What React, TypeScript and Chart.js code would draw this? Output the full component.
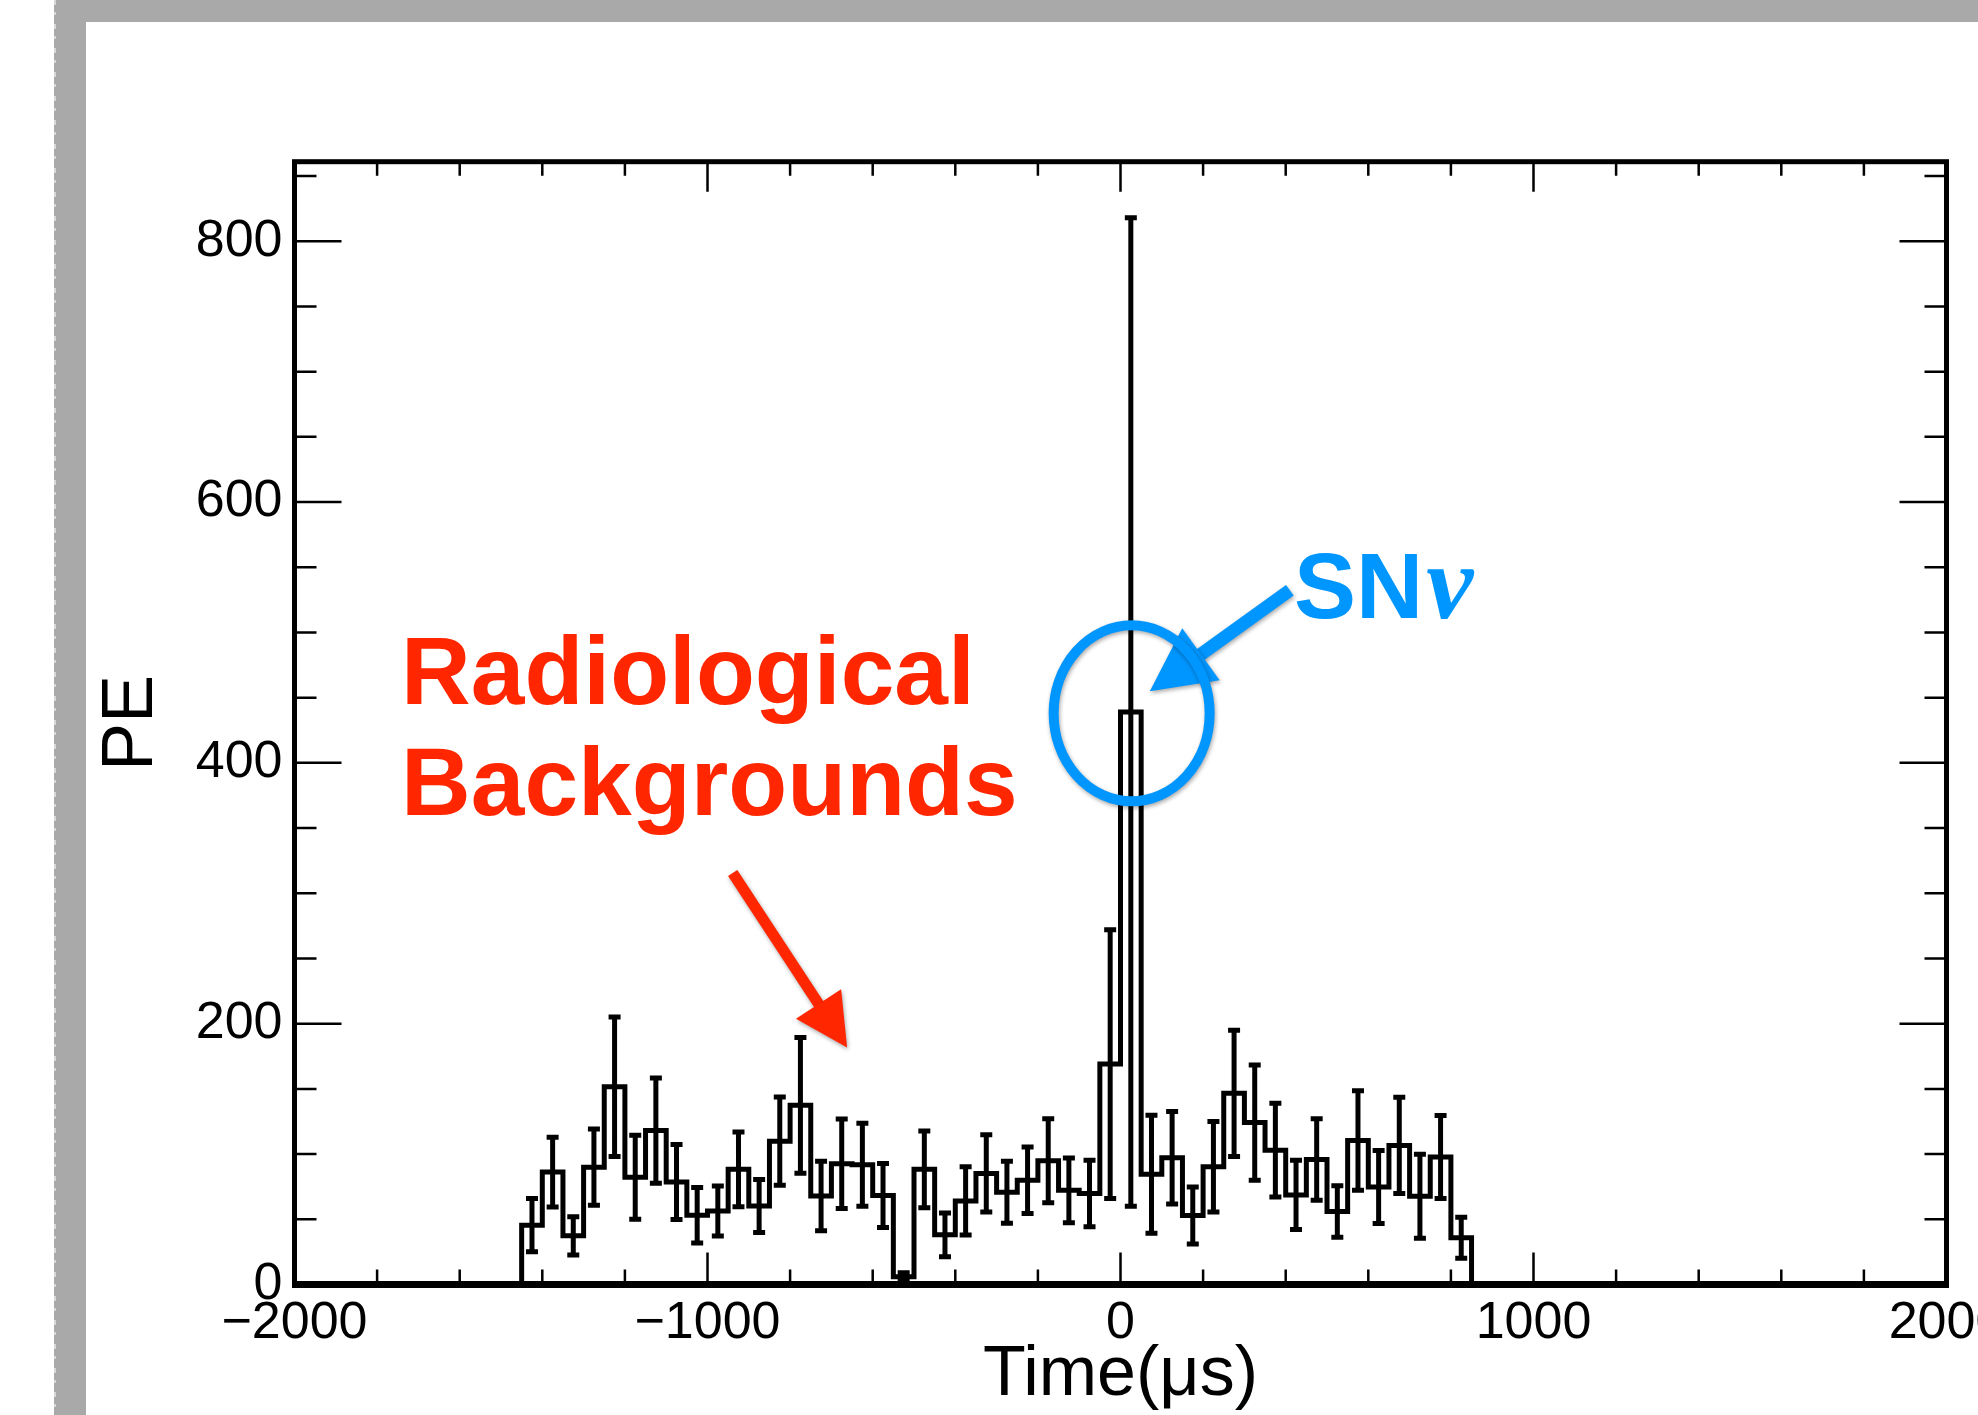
import React, { useEffect, useRef } from "react";
import { Chart, registerables } from "chart.js";

Chart.register(...registerables);

// ---------- data ----------
const binLowEdges = [
  -1450, -1400, -1350, -1300, -1250, -1200, -1150, -1100, -1050, -1000,
  -950, -900, -850, -800, -750, -700, -650, -600, -550, -500,
  -450, -400, -350, -300, -250, -200, -150, -100, -50, 0,
  50, 100, 150, 200, 250, 300, 350, 400, 450, 500,
  550, 600, 650, 700, 750, 800,
];
const binHighEdge = 850;

const peValues = [
  45.5, 86.2, 37.3, 90, 151.7, 82.2, 118, 78.6, 53.1, 56.4,
  88.3, 60.2, 109.9, 137.4, 67.9, 92.6, 91.9, 68.2, 6, 88.3,
  38.1, 64.1, 85.2, 70.7, 79.9, 94.9, 72.2, 69.7, 169, 439,
  84.5, 97.2, 52.9, 90.3, 146.6, 124.2, 103, 68.7, 95.9, 56,
  110.4, 74.8, 106.6, 67.6, 97.7, 35.8,
];
const peErrors = [
  20.4, 26.8, 14.7, 29.3, 53.5, 32.2, 40.3, 28.8, 21.2, 19.2,
  28.7, 20.4, 33.8, 52, 26.6, 34.3, 31.8, 24.5, 3, 29.4,
  16.8, 26.1, 29.6, 23.8, 25.5, 32.2, 24.8, 25.5, 103, 379,
  45.2, 35.5, 21.9, 34.7, 48.4, 44.2, 35.9, 26.5, 31.2, 19.7,
  38.2, 28, 36.9, 32.2, 31.8, 15.7,
];

const xRange = [-2000, 2000];
const yRange = [0, 861];
const xMajorTicks = [-2000, -1000, 0, 1000, 2000];
const xTickLabels = ["\u22122000", "\u22121000", "0", "1000", "2000"];
const xMinorTicks = [
  -1800, -1600, -1400, -1200, -800, -600, -400, -200,
  200, 400, 600, 800, 1200, 1400, 1600, 1800,
];
const yMajorTicks = [0, 200, 400, 600, 800];
const yTickLabels = ["0", "200", "400", "600", "800"];
const yMinorTicks = [50, 100, 150, 250, 300, 350, 450, 500, 550, 650, 700, 750, 850];

const xTitle = "Time(\u03bcs)";
const yTitle = "PE";
const bgLabelLines = ["Radiological", "Backgrounds"];
const snLabelMain = "SN";
const snLabelNu = "\u03bd";

// ---------- styles / positions (not data) ----------
const FONT = '"Liberation Sans", Arial, Helvetica, sans-serif';
const RED = "#FF2600";
const BLUE = "#0096FF";
const bgLabelAnchor = { x: -1742, y: [445.5, 360.2] };
const bgArrow = { from: { x: -939, y: 315.5 }, to: { x: -662, y: 181.8 } };
const snLabelAnchor = { x: 420, y: 511 };
const snArrow = { from: { x: 410, y: 532.4 }, to: { x: 71, y: 455 } };
const snEllipse = { x: 27, y: 438, rx: 78, ry: 88 };

function drawArrow(
  ctx: CanvasRenderingContext2D,
  x0: number, y0: number, x1: number, y1: number,
  width: number, headLen: number, headHalf: number, color: string
) {
  const dx = x1 - x0, dy = y1 - y0;
  const L = Math.hypot(dx, dy);
  const ux = dx / L, uy = dy / L;
  const bx = x1 - ux * headLen, by = y1 - uy * headLen;
  ctx.strokeStyle = color;
  ctx.fillStyle = color;
  ctx.lineWidth = width;
  ctx.lineCap = "butt";
  ctx.beginPath();
  ctx.moveTo(x0, y0);
  ctx.lineTo(bx + ux * 4, by + uy * 4);
  ctx.stroke();
  ctx.beginPath();
  ctx.moveTo(x1, y1);
  ctx.lineTo(bx - uy * headHalf, by + ux * headHalf);
  ctx.lineTo(bx + uy * headHalf, by - ux * headHalf);
  ctx.closePath();
  ctx.fill();
}

const pageDecor = {
  id: "pageDecor",
  beforeDraw(chart: any) {
    const { ctx, width, height } = chart;
    ctx.save();
    ctx.fillStyle = "#ffffff";
    ctx.fillRect(0, 0, width, height);
    ctx.fillStyle = "#a9a9a9";
    ctx.fillRect(54, 0, 32, height);
    ctx.fillRect(54, 0, width - 54, 22);
    ctx.strokeStyle = "#d6d6d6";
    ctx.lineWidth = 2;
    ctx.setLineDash([5, 7, 3, 9]);
    ctx.beginPath();
    ctx.moveTo(55, 0);
    ctx.lineTo(55, height);
    ctx.stroke();
    ctx.restore();
  },
};

const errorBars = {
  id: "errorBars",
  afterDatasetsDraw(chart: any) {
    const { ctx, scales } = chart;
    const x = scales.x, y = scales.y;
    ctx.save();
    ctx.strokeStyle = "#000";
    ctx.lineWidth = 5;
    ctx.lineCap = "butt";
    ctx.beginPath();
    binLowEdges.forEach((lo, i) => {
      const hi = i + 1 < binLowEdges.length ? binLowEdges[i + 1] : binHighEdge;
      const cx = x.getPixelForValue((lo + hi) / 2);
      const yt = y.getPixelForValue(peValues[i] + peErrors[i]);
      const yb = y.getPixelForValue(peValues[i] - peErrors[i]);
      ctx.moveTo(cx, yt);
      ctx.lineTo(cx, yb);
      ctx.moveTo(cx - 6, yt);
      ctx.lineTo(cx + 6, yt);
      ctx.moveTo(cx - 6, yb);
      ctx.lineTo(cx + 6, yb);
    });
    ctx.stroke();
    ctx.restore();
  },
};

const frameAndTicks = {
  id: "frameAndTicks",
  afterDraw(chart: any) {
    const { ctx, chartArea: a, scales } = chart;
    const x = scales.x, y = scales.y;
    ctx.save();
    ctx.strokeStyle = "#000";
    ctx.lineWidth = 2.5;
    ctx.lineCap = "butt";
    ctx.beginPath();
    const xt = (list: number[], lb: number, lt: number) => {
      list.forEach((v) => {
        const p = x.getPixelForValue(v);
        ctx.moveTo(p, a.bottom);
        ctx.lineTo(p, a.bottom - lb);
        ctx.moveTo(p, a.top);
        ctx.lineTo(p, a.top + lt);
      });
    };
    const yt = (list: number[], l: number) => {
      list.forEach((v) => {
        const p = y.getPixelForValue(v);
        ctx.moveTo(a.left, p);
        ctx.lineTo(a.left + l, p);
        ctx.moveTo(a.right, p);
        ctx.lineTo(a.right - l, p);
      });
    };
    xt(xMinorTicks, 15, 14);
    xt(xMajorTicks, 32, 30);
    yt(yMinorTicks, 22);
    yt(yMajorTicks, 47);
    ctx.stroke();
    ctx.lineWidth = 5;
    ctx.strokeRect(a.left, a.top, a.right - a.left, a.bottom - a.top);
    ctx.lineWidth = 7;
    ctx.beginPath();
    ctx.moveTo(a.left - 2.5, a.bottom);
    ctx.lineTo(a.right + 2.5, a.bottom);
    ctx.stroke();
    ctx.restore();
  },
};

const annotations = {
  id: "annotations",
  afterDraw(chart: any) {
    const { ctx, scales } = chart;
    const x = scales.x, y = scales.y;
    ctx.save();
    // red label
    ctx.fillStyle = RED;
    ctx.font = `bold 96.5px ${FONT}`;
    ctx.textAlign = "left";
    ctx.textBaseline = "alphabetic";
    bgLabelLines.forEach((line, i) => {
      ctx.fillText(line, x.getPixelForValue(bgLabelAnchor.x), y.getPixelForValue(bgLabelAnchor.y[i]));
    });
    // blue label
    ctx.fillStyle = BLUE;
    ctx.font = `bold 93px ${FONT}`;
    const sx = x.getPixelForValue(snLabelAnchor.x);
    const sy = y.getPixelForValue(snLabelAnchor.y);
    ctx.fillText(snLabelMain, sx, sy);
    const w = ctx.measureText(snLabelMain).width;
    ctx.font = `italic bold 106px "Liberation Serif", "DejaVu Serif", serif`;
    ctx.fillText(snLabelNu, sx + w + 3, sy);

    // shapes with a soft shadow
    ctx.shadowColor = "rgba(0,0,0,0.35)";
    ctx.shadowBlur = 4;
    ctx.shadowOffsetX = 1;
    ctx.shadowOffsetY = 2;
    drawArrow(
      ctx,
      x.getPixelForValue(bgArrow.from.x), y.getPixelForValue(bgArrow.from.y),
      x.getPixelForValue(bgArrow.to.x), y.getPixelForValue(bgArrow.to.y),
      11, 52, 27, RED
    );
    drawArrow(
      ctx,
      x.getPixelForValue(snArrow.from.x), y.getPixelForValue(snArrow.from.y),
      x.getPixelForValue(snArrow.to.x), y.getPixelForValue(snArrow.to.y),
      13, 63, 32, BLUE
    );
    ctx.strokeStyle = BLUE;
    ctx.lineWidth = 10;
    ctx.beginPath();
    ctx.ellipse(
      x.getPixelForValue(snEllipse.x), y.getPixelForValue(snEllipse.y),
      snEllipse.rx, snEllipse.ry, 0, 0, Math.PI * 2
    );
    ctx.stroke();
    ctx.restore();
  },
};

export default function App() {
  const canvasRef = useRef<HTMLCanvasElement | null>(null);

  useEffect(() => {
    document.body.style.margin = "0";
    document.body.style.overflow = "hidden";
    document.body.style.background = "#fff";
    const canvas = canvasRef.current;
    if (!canvas) return;

    const histPoints = [
      { x: xRange[0], y: 0 },
      ...binLowEdges.map((e, i) => ({ x: e, y: peValues[i] })),
      { x: binHighEdge, y: 0 },
      { x: xRange[1], y: 0 },
    ];

    const chart = new Chart(canvas, {
      type: "line",
      data: {
        datasets: [
          {
            data: histPoints,
            stepped: "before",
            borderColor: "#000",
            borderWidth: 5,
            borderJoinStyle: "miter",
            borderCapStyle: "butt",
            pointRadius: 0,
            fill: false,
            tension: 0,
            clip: 10,
          } as any,
        ],
      },
      options: {
        animation: false,
        responsive: false,
        maintainAspectRatio: false,
        devicePixelRatio: 1,
        events: [],
        layout: { padding: { left: 0, top: 161.7, right: 31.5, bottom: 0 } },
        plugins: {
          legend: { display: false },
          tooltip: { enabled: false },
          title: { display: false },
        },
        scales: {
          x: {
            type: "linear",
            min: xRange[0],
            max: xRange[1],
            grid: { display: false, drawTicks: false },
            border: { display: false },
            afterBuildTicks: (s: any) => {
              s.ticks = xMajorTicks.map((v) => ({ value: v }));
            },
            ticks: {
              autoSkip: false,
              maxRotation: 0,
              minRotation: 0,
              padding: 8,
              color: "#000",
              font: { family: FONT, size: 52 },
              callback: (v: any) => {
                const i = xMajorTicks.indexOf(Number(v));
                return i >= 0 ? xTickLabels[i] : "";
              },
            },
            title: {
              display: true,
              text: xTitle,
              color: "#000",
              font: { family: FONT, size: 70, lineHeight: 1 },
              padding: { top: 0, bottom: 4 },
            },
            afterFit: (s: any) => {
              s.height = 130.5;
              s.paddingLeft = 0;
              s.paddingRight = 0;
            },
          },
          y: {
            type: "linear",
            min: yRange[0],
            max: yRange[1],
            grid: { display: false, drawTicks: false },
            border: { display: false },
            afterBuildTicks: (s: any) => {
              s.ticks = yMajorTicks.map((v) => ({ value: v }));
            },
            ticks: {
              autoSkip: false,
              padding: 12,
              color: "#000",
              font: { family: FONT, size: 52 },
              callback: (v: any) => {
                const i = yMajorTicks.indexOf(Number(v));
                return i >= 0 ? yTickLabels[i] : "";
              },
            },
            title: {
              display: true,
              text: yTitle,
              color: "#000",
              font: { family: FONT, size: 72, lineHeight: 1 },
              padding: { top: 96.5, bottom: 0 },
            },
            afterFit: (s: any) => {
              s.width = 294.5;
              s.paddingTop = 0;
              s.paddingBottom = 0;
            },
          },
        },
      } as any,
      plugins: [pageDecor, errorBars, frameAndTicks, annotations],
    });

    return () => {
      chart.destroy();
    };
  }, []);

  return (
    <div style={{ position: "absolute", left: 0, top: 0, width: 1978, height: 1415, overflow: "hidden" }}>
      <canvas ref={canvasRef} width={1978} height={1415} style={{ display: "block", width: 1978, height: 1415 }} />
    </div>
  );
}
